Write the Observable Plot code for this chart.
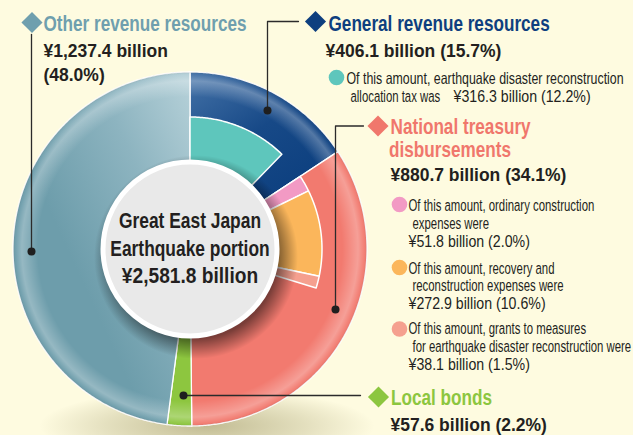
<!DOCTYPE html>
<html><head><meta charset="utf-8">
<script src="https://cdn.jsdelivr.net/npm/d3@7"></script>
<script src="https://cdn.jsdelivr.net/npm/@observablehq/plot@0.6"></script>
<style>
html,body{margin:0;padding:0;background:#fefbe0;}
#chart svg{display:block;}
</style></head>
<body><div id="chart"></div>
<script>
// ---------------- data ----------------
const categories = ["General revenue resources", "National treasury disbursements", "Local bonds", "Other revenue resources"];
const amounts = [406.1, 880.7, 57.6, 1237.4];            // ¥ billion
const shares = [15.7, 34.1, 2.2, 48.0];                   // %
const totalAmount = 2581.8;                               // ¥ billion

const subCategories = ["earthquake disaster reconstruction allocation tax", "ordinary construction expenses", "recovery and reconstruction expenses", "grants to measures for earthquake disaster reconstruction"];
const subParents = ["General revenue resources", "National treasury disbursements", "National treasury disbursements", "National treasury disbursements"];
const subAmounts = [316.3, 51.8, 272.9, 38.1];            // ¥ billion
const subShares = [12.2, 2.0, 10.6, 1.5];                 // %

const centerLines = ["Great East Japan", "Earthquake portion"];
const headingLines = [["General revenue resources"], ["National treasury", "disbursements"], ["Local bonds"], ["Other revenue resources"]];
const noteLines = [
  ["Of this amount, earthquake disaster reconstruction", "allocation tax was"],
  ["Of this amount, ordinary construction", "expenses were"],
  ["Of this amount, recovery and", "reconstruction expenses were"],
  ["Of this amount, grants to measures", "for earthquake disaster reconstruction were"]
];

// ---------------- styles ----------------
const sliceFills = ["url(#gGeneral)", "#f27a6f", "#8dc63f", "url(#gOther)"];
const headingColors = ["#0e3f7f", "#f0776c", "#8cc63f", "#6f9fae"];
const subColors = ["#5ec6bc", "#f29ac4", "#fbb65b", "#f5a08f"];
const INK = "#231f20";
const FONT = "'Liberation Sans', Arial, Helvetica, sans-serif";
const stretch = {heading: 0.78, value: 0.94, note: 0.69, noteWide: 0.75, noteValue: 0.86, center: 0.78, centerValue: 0.86};

// ---------------- layout ----------------
const W = 633, H = 435;
const C = {x: 189.5, y: 248.5};
const R_OUT = 177, R_SUB = 132, R_IN = 80, R_HOLE = 87;
const layout = [
  {diamond: [315, 21], heading: [[328, 30]], value: [[325, 56.5]], leader: [[298, 21], [267, 21], [267, 110]]},
  {diamond: [377.5, 125.5], heading: [[390, 133], [388.5, 156.5]], value: [[390, 180.5]], leader: [[363, 125.5], [335, 125.5], [335, 309]]},
  {diamond: [378, 396.5], heading: [[390.5, 404.5]], value: [[390, 430.5]], leader: [[360, 395], [183, 395]]},
  {diamond: [31.5, 22], heading: [[43, 30]], value: [[43, 56.5], [43, 80.5]], leader: [[31, 34], [31, 251]]}
];
const noteLayout = [
  {bullet: [336, 77], lines: [[346, 83.6], [350, 101.2]], value: [453, 101.2], wide: [true, false]},
  {bullet: [399, 204], lines: [[408, 210.5], [412, 228]], value: [408, 246], wide: [false, false]},
  {bullet: [399, 267], lines: [[408, 273.5], [412, 290.5]], value: [408, 308.5], wide: [false, false]},
  {bullet: [399, 328.5], lines: [[408, 333.5], [412, 351.5]], value: [408, 369.5], wide: [false, false]}
];
const centerBaselines = [227.5, 255, 282];

// ---------------- derived geometry ----------------
const fmt = d3.format(",.1f");
const rows = categories.map((c, i) => ({category: c, amount: amounts[i], share: shares[i], fill: sliceFills[i]}));
const arcs = d3.pie().sort(null).value(d => d.amount)(rows);

function ring(key, a0, a1, r0, r1, extra) {
  const n = Math.max(2, Math.ceil((a1 - a0) / (Math.PI / 360)));
  const pts = [];
  for (let i = 0; i <= n; i++) { const a = a0 + (a1 - a0) * i / n; pts.push({key, x: C.x + r1 * Math.sin(a), y: C.y - r1 * Math.cos(a), ...extra}); }
  for (let i = n; i >= 0; i--) { const a = a0 + (a1 - a0) * i / n; pts.push({key, x: C.x + r0 * Math.sin(a), y: C.y - r0 * Math.cos(a), ...extra}); }
  return pts;
}

const slicePts = arcs.flatMap(a => ring(a.data.category, a.startAngle, a.endAngle, R_IN, R_OUT, {fill: a.data.fill}));

const used = new Map();
const subPts = subCategories.flatMap((c, i) => {
  const parent = arcs.find(a => a.data.category === subParents[i]);
  const off = used.get(subParents[i]) || 0;
  const span = subAmounts[i] / totalAmount * 2 * Math.PI;
  used.set(subParents[i], off + span);
  return ring(c, parent.startAngle + off, parent.startAngle + off + span, R_IN, R_SUB, {fill: subColors[i]});
});

const overlayPts = ring("overlay", 0, 2 * Math.PI, R_HOLE, R_OUT, {});

// text items
const items = {heading: [], value: [], note: [], noteWide: [], noteValue: []};
const diamonds = [], leaderPts = [], leaderDots = [];
categories.forEach((c, i) => {
  const L = layout[i];
  headingLines[i].forEach((t, j) => items.heading.push({text: t, x: L.heading[j][0], y: L.heading[j][1], fill: headingColors[i]}));
  const v = `¥${fmt(amounts[i])} billion`, p = `(${shares[i].toFixed(1)}%)`;
  const vals = L.value.length === 2 ? [v, p] : [`${v} ${p}`];
  vals.forEach((t, j) => items.value.push({text: t, x: L.value[j][0], y: L.value[j][1]}));
  diamonds.push({x: L.diamond[0], y: L.diamond[1], fill: headingColors[i]});
  L.leader.forEach(([x, y]) => leaderPts.push({key: c, x, y}));
  const last = L.leader[L.leader.length - 1];
  leaderDots.push({x: last[0], y: last[1]});
});
const bullets = [];
subCategories.forEach((c, i) => {
  const N = noteLayout[i];
  bullets.push({x: N.bullet[0], y: N.bullet[1], fill: subColors[i]});
  noteLines[i].forEach((t, j) => items[N.wide[j] ? "noteWide" : "note"].push({text: t, x: N.lines[j][0], y: N.lines[j][1]}));
  items.noteValue.push({text: `¥${fmt(subAmounts[i])} billion (${subShares[i].toFixed(1)}%)`, x: N.value[0], y: N.value[1]});
});
const centerItems = centerLines.map((t, j) => ({text: t, x: C.x, y: centerBaselines[j]}));
const centerValue = [{text: `¥${fmt(totalAmount)} billion`, x: C.x, y: centerBaselines[2]}];

// ---------------- defs ----------------
function defsMark() {
  const ns = "http://www.w3.org/2000/svg";
  const defs = document.createElementNS(ns, "defs");
  defs.innerHTML = `
    <linearGradient id="gOther" x1="0.95" y1="0" x2="0.35" y2="0.55">
      <stop offset="0" stop-color="#b3cfd7"/><stop offset="0.45" stop-color="#8db4c0"/><stop offset="1" stop-color="#6d9dab"/>
    </linearGradient>
    <linearGradient id="gGeneral" x1="0" y1="0" x2="0.75" y2="1">
      <stop offset="0" stop-color="#4573a8"/><stop offset="0.5" stop-color="#174987"/><stop offset="1" stop-color="#0b3e7e"/>
    </linearGradient>
    <radialGradient id="rim" cx="0.5" cy="0.5" r="0.5">
      <stop offset="0.86" stop-color="#fff" stop-opacity="0"/>
      <stop offset="0.95" stop-color="#fff" stop-opacity="0.28"/>
      <stop offset="0.985" stop-color="#fff" stop-opacity="0.05"/>
      <stop offset="1" stop-color="#000" stop-opacity="0.08"/>
    </radialGradient>
    <radialGradient id="cshadow" cx="0.5" cy="0.5" r="0.5">
      <stop offset="0.8" stop-color="#000" stop-opacity="0.5"/>
      <stop offset="1" stop-color="#000" stop-opacity="0"/>
    </radialGradient>
    <radialGradient id="ground" cx="0.5" cy="0.5" r="0.5">
      <stop offset="0" stop-color="#6e6428" stop-opacity="0.42"/>
      <stop offset="0.6" stop-color="#6e6428" stop-opacity="0.18"/>
      <stop offset="1" stop-color="#6e6428" stop-opacity="0"/>
    </radialGradient>`;
  return defs;
}

function textMark(data, name, opts) {
  return Plot.text(data, {x: "x", y: "y", text: "text", textAnchor: "start", lineAnchor: "bottom",
    fontFamily: FONT, fill: INK, ariaDescription: name, ...opts});
}

const plot = Plot.plot({
  width: W, height: H, margin: 0,
  x: {domain: [0, W], range: [0, W], axis: null},
  y: {domain: [0, H], range: [0, H], axis: null},
  color: {type: "identity"},
  style: {background: "#fefbe0", overflow: "hidden"},
  marks: [
    defsMark,
    // ground shadow
    Plot.rect([C], {x1: d => d.x - 150, x2: d => d.x + 185, y1: d => d.y + 140, y2: d => d.y + 215, fill: "url(#ground)"}),
    // outer ring
    Plot.line(slicePts, {x: "x", y: "y", z: "key", fill: "fill", stroke: "white", strokeWidth: 1.3, curve: "linear-closed"}),
    Plot.line(overlayPts, {x: "x", y: "y", z: "key", fill: "url(#rim)", stroke: "none", curve: "linear-closed"}),
    // inner sub-slices
    Plot.line(subPts, {x: "x", y: "y", z: "key", fill: "fill", stroke: "white", strokeWidth: 1.5, curve: "linear-closed"}),
    // center disc with shadow
    Plot.dot([C], {x: "x", y: "y", r: 102, dx: 6, dy: 8, fill: "url(#cshadow)"}),
    Plot.dot([C], {x: "x", y: "y", r: R_HOLE, fill: "#e9e9e9", stroke: "white", strokeWidth: 5}),
    textMark(centerItems, "center", {textAnchor: "middle", fontSize: 22.3, fontWeight: "bold"}),
    textMark(centerValue, "centerValue", {textAnchor: "middle", fontSize: 22.3, fontWeight: "bold"}),
    // leaders
    Plot.line(leaderPts, {x: "x", y: "y", z: "key", stroke: "#2b2b2b", strokeWidth: 1.3}),
    Plot.dot(leaderDots, {x: "x", y: "y", r: 4, fill: "#1f1f1f"}),
    // labels
    Plot.dot(diamonds, {x: "x", y: "y", r: 9.5, symbol: "diamond2", fill: "fill"}),
    Plot.dot(bullets, {x: "x", y: "y", r: 7.8, fill: "fill"}),
    textMark(items.heading, "heading", {fontSize: 22, fontWeight: "bold", fill: "fill"}),
    textMark(items.value, "value", {fontSize: 18.6, fontWeight: "bold"}),
    textMark(items.note, "note", {fontSize: 16.5}),
    textMark(items.noteWide, "noteWide", {fontSize: 16.5}),
    textMark(items.noteValue, "noteValue", {fontSize: 16.5})
  ]
});

// condense type horizontally (the original uses a condensed face)
for (const [name, s] of Object.entries(stretch)) {
  plot.querySelectorAll(`g[aria-description="${name}"] text`).forEach(t => {
    let tr = t.getAttribute("transform");
    if (!tr) {
      const x = +t.getAttribute("x") || 0, y = +t.getAttribute("y") || 0;
      t.removeAttribute("x"); t.removeAttribute("y");
      tr = `translate(${x},${y})`;
    }
    t.setAttribute("transform", `${tr} scale(${s},1)`);
  });
}
document.getElementById("chart").appendChild(plot);
</script>
</body></html>
